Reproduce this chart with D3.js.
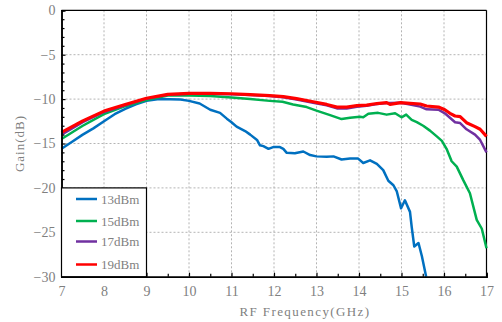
<!DOCTYPE html>
<html lang="en">
<head>
<meta charset="utf-8" />
<title>Gain vs RF Frequency</title>
<style>
  body{margin:0;background:#fff;}
  svg text{font-family:"Liberation Serif","DejaVu Serif",serif;fill:#7f7f7f;}
  .grid line{stroke:#b4b4b4;stroke-dasharray:2,2;stroke-width:1;}
</style>
<script src="https://cdn.jsdelivr.net/npm/d3@7.9.0/dist/d3.min.js"></script>
</head>
<body>
<svg id="chart" width="502" height="322"></svg>
<script>
/* ───────── DATA ───────── */
const xTicks = [7,8,9,10,11,12,13,14,15,16,17];
const yTicks = [0,-5,-10,-15,-20,-25,-30];

const freq13 = [7,7.25,7.5,7.75,8,8.25,8.5,8.75,9,9.3,9.8,10.0,10.25,10.5,10.73,10.89,11.0,11.12,11.32,11.44,11.6,11.67,11.75,11.87,11.98,12.14,12.22,12.3,12.49,12.69,12.85,13.0,13.24,13.4,13.59,13.79,13.98,14.1,14.26,14.42,14.57,14.69,14.81,14.89,14.99,15.08,15.2,15.24,15.3,15.4,15.48,15.58];
const gain13 = [-15.6,-14.8,-14.0,-13.3,-12.5,-11.7,-11.1,-10.6,-10.2,-10.0,-10.05,-10.2,-10.5,-11.2,-11.55,-12.2,-12.6,-13.1,-13.6,-14.0,-14.6,-15.2,-15.3,-15.6,-15.4,-15.4,-15.6,-16.05,-16.1,-15.9,-16.3,-16.45,-16.5,-16.45,-16.8,-16.7,-16.7,-17.2,-16.9,-17.3,-18.0,-19.2,-19.7,-20.4,-22.3,-21.4,-22.7,-24.4,-26.6,-26.2,-27.7,-30.0];

const freq15 = [7,7.5,8,8.5,9,9.5,10,10.5,11,11.44,11.9,12.2,12.45,12.77,13.0,13.32,13.59,13.79,14.02,14.1,14.22,14.45,14.65,14.85,15.0,15.11,15.24,15.36,15.51,15.67,15.83,15.95,16.06,16.18,16.3,16.45,16.61,16.77,16.89,17.0];
const gain15 = [-14.5,-13.0,-11.7,-10.8,-10.1,-9.6,-9.6,-9.65,-9.82,-10.0,-10.2,-10.3,-10.6,-10.9,-11.3,-11.8,-12.25,-12.1,-12.0,-12.05,-11.65,-11.55,-11.75,-11.6,-12.05,-11.75,-12.35,-12.6,-13.0,-13.55,-14.2,-14.7,-15.6,-17.0,-17.6,-19.1,-20.6,-23.6,-24.6,-26.8];

const freqHi = [7,7.5,8,8.5,9,9.5,10,10.5,11,11.44,11.9,12.22,12.53,12.92,13.24,13.48,13.71,13.95,14.18,14.42,14.65,14.73,14.98,15.2,15.44,15.59,15.87,16.02,16.14,16.26,16.38,16.53,16.73,16.85,17.0];
const gain17 = [-14.0,-12.6,-11.45,-10.7,-9.95,-9.5,-9.4,-9.4,-9.45,-9.55,-9.65,-9.8,-10.05,-10.4,-10.7,-11.05,-11.05,-10.85,-10.75,-10.55,-10.45,-10.45,-10.4,-10.6,-10.85,-11.15,-11.2,-11.6,-12.1,-12.6,-12.7,-13.4,-14.0,-14.6,-16.0];
const gain19 = [-13.75,-12.45,-11.35,-10.6,-9.9,-9.46,-9.35,-9.35,-9.4,-9.5,-9.6,-9.72,-9.95,-10.3,-10.6,-10.9,-10.9,-10.74,-10.67,-10.5,-10.4,-10.6,-10.4,-10.48,-10.55,-10.78,-10.9,-11.2,-11.6,-11.9,-11.97,-12.66,-13.1,-13.4,-14.2];

const seriesNames = ['13dBm','15dBm','17dBm','19dBm'];
const series = [
  {name:seriesNames[0], f:freq13, g:gain13, color:'#0070c0', w:2.5},
  {name:seriesNames[1], f:freq15, g:gain15, color:'#00b050', w:2.5},
  {name:seriesNames[2], f:freqHi, g:gain17, color:'#7030a0', w:2.5},
  {name:seriesNames[3], f:freqHi, g:gain19, color:'#ff0000', w:3.2}
];

/* ───────── LAYOUT ───────── */
const M = {left:61.5, right:486.5, top:10.3, bottom:276.7};
const svg = d3.select('#chart');

const x = d3.scaleLinear([7,17],[M.left,M.right]);
const y = d3.scaleLinear([-30,0],[M.bottom,M.top]);

/* grid */
const grid = svg.append('g').attr('class','grid');
grid.selectAll('.gx').data(xTicks.slice(1,-1)).join('line')
  .attr('x1',d=>x(d)).attr('x2',d=>x(d)).attr('y1',M.top).attr('y2',M.bottom);
grid.selectAll('.gy').data(yTicks.slice(1,-1)).join('line')
  .attr('x1',M.left).attr('x2',M.right).attr('y1',d=>y(d)).attr('y2',d=>y(d));

/* frame (top / right) */
svg.append('line').attr('x1',M.left).attr('x2',M.right).attr('y1',M.top).attr('y2',M.top)
   .attr('stroke','#000').attr('stroke-width',1.2);
svg.append('line').attr('x1',M.right).attr('x2',M.right).attr('y1',M.top).attr('y2',M.bottom)
   .attr('stroke','#000').attr('stroke-width',1.2);

/* curves */
const line = d3.line().x(d=>x(d[0])).y(d=>y(d[1]));
const plot = svg.append('g');
series.forEach(s=>{
  plot.append('path')
    .datum(s.f.map((f,i)=>[f,s.g[i]]))
    .attr('fill','none').attr('stroke',s.color).attr('stroke-width',s.w)
    .attr('stroke-linejoin','round').attr('d',line);
});

/* axes */
const xAxis = d3.axisBottom(x).tickValues(xTicks).tickSize(-4).tickPadding(9).tickFormat(d3.format('d'));
const xMinor = d3.axisBottom(x).tickValues(d3.range(7.5,17,1)).tickSize(-3).tickFormat('');
const yAxis = d3.axisLeft(y).tickValues(yTicks).tickSize(-4).tickPadding(6)
  .tickFormat(d=>d<0?'\u2212'+Math.abs(d):d);
const yMinor = d3.axisLeft(y).tickValues(d3.range(-29,0,1).filter(v=>v%5!==0)).tickSize(-3).tickFormat('');

function styleAxis(g){
  g.select('.domain').attr('stroke','#000').attr('stroke-width',1.5);
  g.selectAll('.tick line').attr('stroke','#000').attr('stroke-width',1.2);
  g.selectAll('text').attr('font-size',14).attr('fill','#7f7f7f')
   .attr('font-family','"Liberation Serif",serif');
}
svg.append('g').attr('transform',`translate(0,${M.bottom})`).call(xMinor).call(styleAxis);
svg.append('g').attr('transform',`translate(0,${M.bottom})`).call(xAxis).call(styleAxis);
svg.append('g').attr('transform',`translate(${M.left},0)`).call(yMinor).call(styleAxis);
svg.append('g').attr('transform',`translate(${M.left},0)`).call(yAxis).call(styleAxis);

/* axis titles */
svg.append('text').attr('x',305).attr('y',316).attr('letter-spacing',1.4)
   .attr('text-anchor','middle').attr('font-size',13).text('RF Frequency(GHz)');
svg.append('text').attr('transform',`translate(24,${(M.top+M.bottom)/2}) rotate(-90)`)
   .attr('letter-spacing',1).attr('text-anchor','middle').attr('font-size',13).text('Gain(dB)');

/* legend */
const lg = svg.append('g');
lg.append('rect').attr('x',M.left).attr('y',y(-20)).attr('width',x(9)-M.left).attr('height',M.bottom-y(-20))
  .attr('fill','#fff').attr('stroke','#000').attr('stroke-width',1.2);
const legY = [199,221,241.5,264.5];
series.forEach((s,i)=>{
  lg.append('line').attr('x1',76).attr('x2',97).attr('y1',legY[i]).attr('y2',legY[i])
    .attr('stroke',s.color).attr('stroke-width',2.5);
  lg.append('text').attr('x',101).attr('y',legY[i]+4.5).attr('font-size',13).text(s.name);
});
</script>
</body>
</html>
